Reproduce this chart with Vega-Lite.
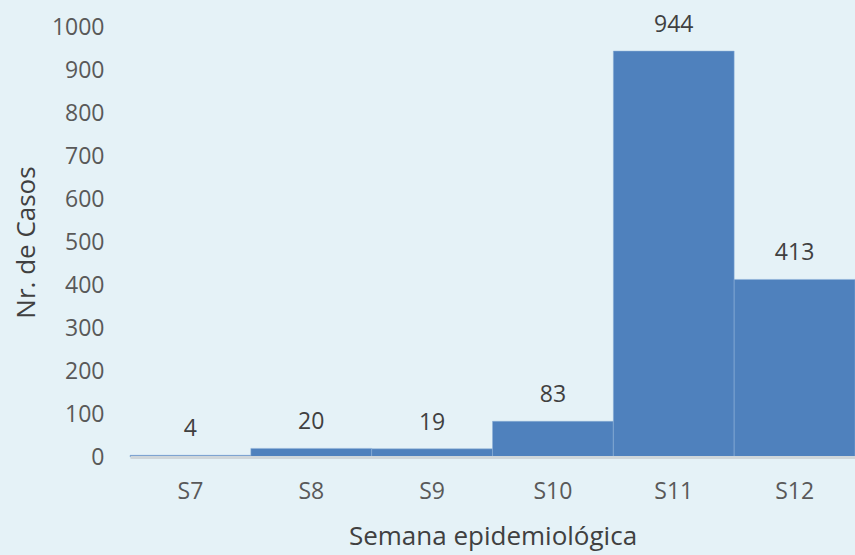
{
  "$schema": "https://vega.github.io/schema/vega-lite/v6.json",
  "width": 725,
  "height": 430,
  "autosize": "none",
  "padding": {"left": 130, "top": 27, "right": 0, "bottom": 98},
  "background": "#e5f2f7",
  "config": {
    "view": {"stroke": null},
    "font": "Open Sans"
  },
  "data": {
    "values": [
      {"semana": "S7", "casos": 4},
      {"semana": "S8", "casos": 20},
      {"semana": "S9", "casos": 19},
      {"semana": "S10", "casos": 83},
      {"semana": "S11", "casos": 944},
      {"semana": "S12", "casos": 413}
    ]
  },
  "encoding": {
    "x": {
      "field": "semana",
      "type": "nominal",
      "sort": null,
      "scale": {"paddingInner": 0, "paddingOuter": 0},
      "axis": {
        "title": "Semana epidemiológica",
        "titleFontSize": 26,
        "titleFontWeight": "normal",
        "titleColor": "#404040",
        "titlePadding": 20,
        "labelAngle": 0,
        "labelFontSize": 23,
        "labelColor": "#595959",
        "labelPadding": 23,
        "ticks": false,
        "domainColor": "#cfd6da",
        "domainWidth": 3,
        "zindex": 1
      }
    },
    "y": {
      "field": "casos",
      "type": "quantitative",
      "scale": {"domain": [0, 1000]},
      "axis": {
        "title": "Nr. de Casos",
        "titleFontSize": 26,
        "titleFontWeight": "normal",
        "titleColor": "#404040",
        "titlePadding": 12,
        "values": [0, 100, 200, 300, 400, 500, 600, 700, 800, 900, 1000],
        "format": "d",
        "labelFontSize": 23,
        "labelColor": "#595959",
        "labelPadding": 26,
        "ticks": false,
        "domain": false,
        "grid": false
      }
    }
  },
  "layer": [
    {
      "mark": {"type": "bar", "color": "#4f81bd", "stroke": "#8fb0d8", "strokeWidth": 0.5}
    },
    {
      "mark": {"type": "text", "baseline": "bottom", "dy": -14, "fontSize": 23, "color": "#404040"},
      "encoding": {"text": {"field": "casos", "type": "quantitative"}}
    }
  ]
}
